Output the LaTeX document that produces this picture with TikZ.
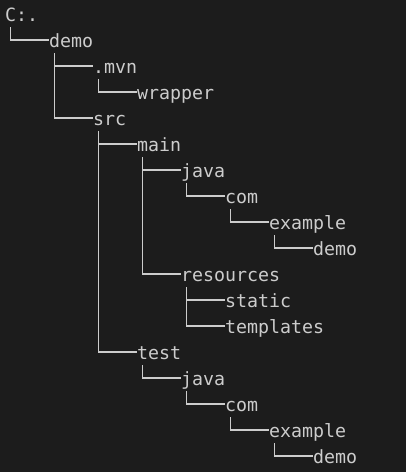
\documentclass[tikz,border=0pt]{standalone}
\usepackage{fontspec}
\newfontfamily\consolefont{DejaVu Sans Mono}
\definecolor{consolebg}{HTML}{1C1C1C}
\definecolor{consolefg}{HTML}{CCCCCC}
\tikzstyle{dirname} = [font={\consolefont\fontsize{18.27}{22}\selectfont}, text=consolefg, inner sep=0pt, anchor=base west]
\tikzstyle{treeline} = [draw=consolefg, line width=1.5pt]

\begin{document}
\begin{tikzpicture}[x=1pt,y=-1pt]
\fill[consolebg] (0,0) rectangle (406,472);
\useasboundingbox (0,0) rectangle (406,472);

\node[dirname] (v0) at (5,21.5) {C:.};
\node[dirname] (v1) at (49,47.5) {demo};
\node[dirname] (v2) at (93,73.5) {.mvn};
\node[dirname] (v3) at (137,99.5) {wrapper};
\node[dirname] (v4) at (93,125.5) {src};
\node[dirname] (v5) at (137,151.5) {main};
\node[dirname] (v6) at (181,177.5) {java};
\node[dirname] (v7) at (225,203.5) {com};
\node[dirname] (v8) at (269,229.5) {example};
\node[dirname] (v9) at (313,255.5) {demo};
\node[dirname] (v10) at (181,281.5) {resources};
\node[dirname] (v11) at (225,307.5) {static};
\node[dirname] (v12) at (225,333.5) {templates};
\node[dirname] (v13) at (137,359.5) {test};
\node[dirname] (v14) at (181,385.5) {java};
\node[dirname] (v15) at (225,411.5) {com};
\node[dirname] (v16) at (269,437.5) {example};
\node[dirname] (v17) at (313,463.5) {demo};

\draw[treeline] ([xshift=5.5pt,yshift=-5.5pt]v0.base west) |- ([yshift=7.5pt]v1.base west);
\draw[treeline] ([xshift=5.5pt,yshift=-5.5pt]v1.base west) |- ([yshift=7.5pt]v2.base west);
\draw[treeline] ([xshift=5.5pt,yshift=-5.5pt]v1.base west) |- ([yshift=7.5pt]v4.base west);
\draw[treeline] ([xshift=5.5pt,yshift=-5.5pt]v2.base west) |- ([yshift=7.5pt]v3.base west);
\draw[treeline] ([xshift=5.5pt,yshift=-5.5pt]v4.base west) |- ([yshift=7.5pt]v5.base west);
\draw[treeline] ([xshift=5.5pt,yshift=-5.5pt]v4.base west) |- ([yshift=7.5pt]v13.base west);
\draw[treeline] ([xshift=5.5pt,yshift=-5.5pt]v5.base west) |- ([yshift=7.5pt]v6.base west);
\draw[treeline] ([xshift=5.5pt,yshift=-5.5pt]v5.base west) |- ([yshift=7.5pt]v10.base west);
\draw[treeline] ([xshift=5.5pt,yshift=-5.5pt]v6.base west) |- ([yshift=7.5pt]v7.base west);
\draw[treeline] ([xshift=5.5pt,yshift=-5.5pt]v7.base west) |- ([yshift=7.5pt]v8.base west);
\draw[treeline] ([xshift=5.5pt,yshift=-5.5pt]v8.base west) |- ([yshift=7.5pt]v9.base west);
\draw[treeline] ([xshift=5.5pt,yshift=-5.5pt]v10.base west) |- ([yshift=7.5pt]v11.base west);
\draw[treeline] ([xshift=5.5pt,yshift=-5.5pt]v10.base west) |- ([yshift=7.5pt]v12.base west);
\draw[treeline] ([xshift=5.5pt,yshift=-5.5pt]v13.base west) |- ([yshift=7.5pt]v14.base west);
\draw[treeline] ([xshift=5.5pt,yshift=-5.5pt]v14.base west) |- ([yshift=7.5pt]v15.base west);
\draw[treeline] ([xshift=5.5pt,yshift=-5.5pt]v15.base west) |- ([yshift=7.5pt]v16.base west);
\draw[treeline] ([xshift=5.5pt,yshift=-5.5pt]v16.base west) |- ([yshift=7.5pt]v17.base west);
\end{tikzpicture}
\end{document}
